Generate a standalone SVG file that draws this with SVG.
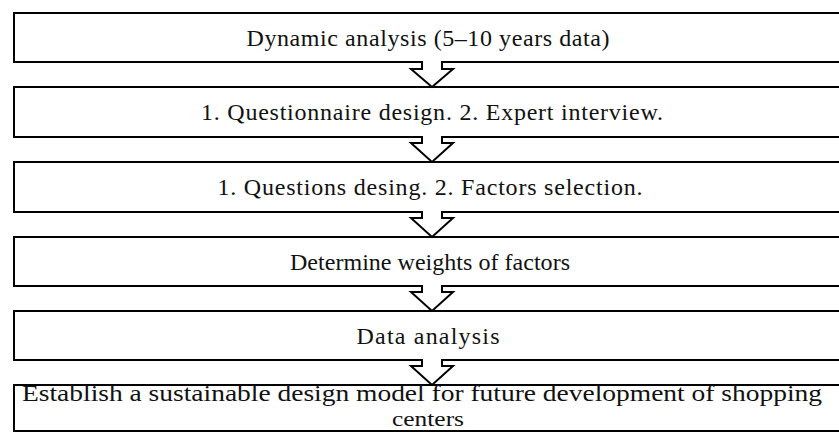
<svg xmlns="http://www.w3.org/2000/svg" width="839" height="433" viewBox="0 0 839 433">
<style>
.box{fill:#fff;stroke:#000;stroke-width:2}
.arr{fill:#fff;stroke:#000;stroke-width:2;stroke-linejoin:miter}
text{font-family:"Liberation Serif","DejaVu Serif",serif;font-size:24px;fill:#111;text-anchor:middle}
.sm{font-size:22px}
</style>
<rect width="839" height="433" fill="#fff"/>
<g id="n1"><rect class="box" x="14" y="13" width="900" height="49"/><text x="428" y="46" textLength="363" lengthAdjust="spacing">Dynamic analysis (5–10 years data)</text></g>
<g id="n2"><rect class="box" x="14" y="87" width="900" height="50"/><text x="432" y="120" textLength="462" lengthAdjust="spacing">1. Questionnaire design. 2. Expert interview.</text></g>
<g id="n3"><rect class="box" x="14" y="162" width="900" height="50"/><text x="430" y="195" textLength="425" lengthAdjust="spacing">1. Questions desing. 2. Factors selection.</text></g>
<g id="n4"><rect class="box" x="14" y="237" width="900" height="49"/><text x="430" y="270" textLength="280" lengthAdjust="spacing">Determine weights of factors</text></g>
<g id="n5"><rect class="box" x="14" y="311" width="900" height="49"/><text x="428" y="344" textLength="143" lengthAdjust="spacing">Data analysis</text></g>
<g id="n6"><rect class="box" x="14" y="385" width="900" height="46"/><text x="422" y="401" textLength="800" lengthAdjust="spacingAndGlyphs">Establish a sustainable design model for future development of shopping</text><text class="sm" x="428" y="426" textLength="72" lengthAdjust="spacingAndGlyphs">centers</text></g>
<g id="connectors">
<path class="arr" d="M422,61 V69 H411 L432,87 L453,69 H442 V61"/>
<path class="arr" d="M422,136 V143 H411 L432,162 L453,143 H442 V136"/>
<path class="arr" d="M422,211 V218 H411 L432,237 L453,218 H442 V211"/>
<path class="arr" d="M422,285 V292 H411 L432,311 L453,292 H442 V285"/>
<path class="arr" d="M422,359 V366 H411 L432,385 L453,366 H442 V359"/>
</g>
</svg>
